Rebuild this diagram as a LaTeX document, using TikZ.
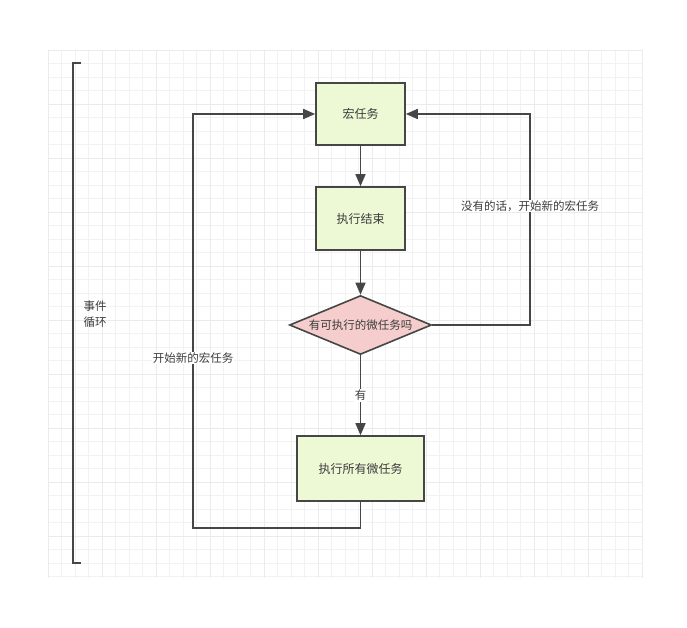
\documentclass[tikz,border=0pt]{standalone}
\usepackage{fontspec}
\newfontfamily\cjk{Noto Sans CJK SC}
\usepackage{xcolor}
\usetikzlibrary{arrows.meta,shapes.geometric}
\definecolor{boxgreen}{RGB}{237,248,213}
\definecolor{diapink}{RGB}{246,205,205}
\definecolor{linegray}{RGB}{70,70,70}
\definecolor{txtgray}{RGB}{60,60,60}
\tikzset{
  % 背景网格
  gridminor/.style = {draw=black!5, line width=0.6pt},
  gridmajor/.style = {draw=black!8, line width=0.8pt},
  % 流程框
  stepbox/.style   = {draw=linegray, line width=1.6pt, fill=boxgreen,
                      font=\cjk\fontsize{12}{14}\selectfont, text=txtgray},
  decide/.style    = {diamond, draw=linegray, line width=1.6pt, fill=diapink,
                      aspect=2.4, inner sep=0pt, minimum width=142pt,
                      minimum height=59pt,
                      font=\cjk\fontsize{11.5}{14}\selectfont, text=txtgray},
  % 连线
  flow/.style      = {draw=linegray, line width=1.6pt,
                      -{Triangle[length=12pt,width=10pt]}},
  loopline/.style  = {draw=linegray, line width=1.6pt},
  % 文字
  lab/.style       = {font=\cjk\fontsize{11.5}{16}\selectfont, text=txtgray,
                      fill=white, inner sep=1pt},
}
\begin{document}
\begin{tikzpicture}[x=1pt,y=-1pt]
  \useasboundingbox[fill=white] (0,0) rectangle (687,628);
  % 网格
  \foreach \gx in {0,...,44}
    \draw[gridminor] ({48+13.5*\gx},50) -- ({48+13.5*\gx},578);
  \foreach \gy in {0,...,39}
    \draw[gridminor] (48,{50+13.5*\gy}) -- (643,{50+13.5*\gy});
  \foreach \gx in {0,4,...,44}
    \draw[gridmajor] ({48+13.5*\gx},50) -- ({48+13.5*\gx},578);
  \foreach \gy in {0,4,...,36}
    \draw[gridmajor] (48,{50+13.5*\gy}) -- (643,{50+13.5*\gy});

  % 事件循环括号
  \draw[loopline] (81,63) -- (73,63) -- (73,563) -- (81,563);
  \node[lab, fill=none, align=left] (evloop) at (95,314) {事件\\循环};

  % 节点
  \node[stepbox, minimum width=89pt, minimum height=62pt] (macro) at (360.5,114) {宏任务};
  \node[stepbox, minimum width=89pt, minimum height=63pt] (done) at (360.5,218.5) {执行结束};
  \node[decide] (check) at (360.5,325) {有可执行的微任务吗};
  \node[stepbox, minimum width=127pt, minimum height=65pt] (allmicro) at (360.5,468.5) {执行所有微任务};

  \coordinate (loopL) at (193,528);
  \coordinate (loopR) at (530,114);

  % 连线
  \draw[flow] (macro) -- (done);
  \draw[flow] (done) -- (check);
  \draw[flow] (check) -- (allmicro) node[lab, pos=0.5] (yes) {有};
  \draw[flow] (allmicro.south) |- (loopL) |- (macro.west);
  \draw[flow] (check.east) -| (loopR) -- (macro.east);

  \node[lab] (newL) at (193,358) {开始新的宏任务};
  \node[lab] (newR) at (530,206) {没有的话，开始新的宏任务};
\end{tikzpicture}
\end{document}
